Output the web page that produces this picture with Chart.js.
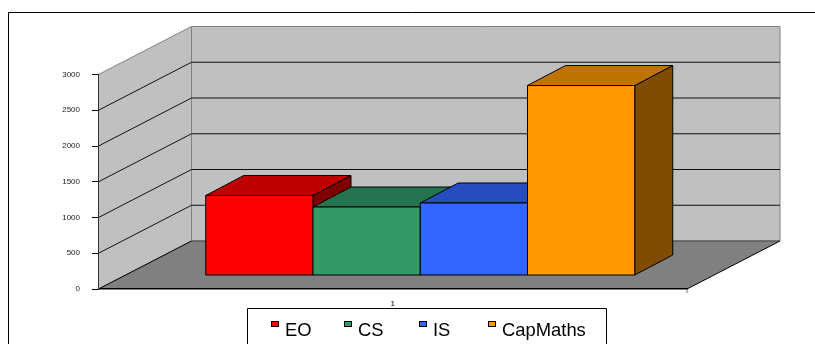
<!DOCTYPE html>
<html>
<head>
<meta charset="utf-8">
<style>
  html, body { margin: 0; padding: 0; background: #fff; }
  canvas { display: block; }
</style>
<script src="https://cdn.jsdelivr.net/npm/chart.js@4/dist/chart.umd.min.js"></script>
</head>
<body>
<canvas id="chart" width="815" height="344"></canvas>
<script>
const categories = ["1"];
const seriesNames = ["EO", "CS", "IS", "CapMaths"];
const eoValues = [1119];
const csValues = [958];
const isValues = [1014];
const capMathsValues = [2657];
const yTicks = [0, 500, 1000, 1500, 2000, 2500, 3000];

const frontColors = ["#ff0000", "#339966", "#3366ff", "#ff9900"];
const topColors = ["#bf0000", "#267350", "#264cbf", "#bf7300"];
const sideColors = ["#800000", "#1a4d33", "#1a3380", "#804d00"];

// the fake 3d box: how far back the walls go, and where the bars sit in it
const wallDx = 93, wallDy = 48;
const barOffsetX = 27.5, barOffsetY = 13.5;
const barDx = 38, barDy = 20;

const legendXs = [271, 344, 419, 488];

function poly(ctx, pts, fill, stroke) {
  ctx.beginPath();
  pts.forEach((p, i) => i ? ctx.lineTo(p[0], p[1]) : ctx.moveTo(p[0], p[1]));
  ctx.closePath();
  if (fill) { ctx.fillStyle = fill; ctx.fill(); }
  if (stroke) { ctx.strokeStyle = stroke; ctx.lineWidth = 1; ctx.stroke(); }
}

const box3d = {
  id: "box3d",
  // walls and floor go under everything else
  beforeDraw(chart) {
    const { ctx, chartArea: { left, right, top, bottom }, scales: { y } } = chart;
    ctx.save();
    // page frame, open at the right and the bottom
    ctx.strokeStyle = "#000";
    ctx.lineWidth = 1;
    ctx.beginPath();
    ctx.moveTo(8.5, 344);
    ctx.lineTo(8.5, 12.5);
    ctx.lineTo(815, 12.5);
    ctx.stroke();

    const bl = left + wallDx, br = right + wallDx;
    poly(ctx, [[left, top], [bl, top - wallDy], [bl, bottom - wallDy], [left, bottom]], "#c0c0c0", "#808080");
    poly(ctx, [[bl, top - wallDy], [br, top - wallDy], [br, bottom - wallDy], [bl, bottom - wallDy]], "#c0c0c0", "#808080");
    poly(ctx, [[left, bottom], [bl, bottom - wallDy], [br, bottom - wallDy], [right, bottom]], "#808080", null);

    yTicks.forEach(v => {
      if (v === 0 || v === 3000) return;
      const py = y.getPixelForValue(v);
      ctx.strokeStyle = "#111";
      ctx.beginPath();
      ctx.moveTo(left, py);
      ctx.lineTo(bl, py - wallDy);
      ctx.lineTo(br, py - wallDy);
      ctx.stroke();
    });
    // floor edges
    ctx.strokeStyle = "#000";
    ctx.beginPath();
    ctx.moveTo(left, bottom);
    ctx.lineTo(bl, bottom - wallDy);
    ctx.moveTo(right, bottom);
    ctx.lineTo(br, bottom - wallDy);
    ctx.stroke();
    ctx.strokeStyle = "#444";
    ctx.beginPath();
    ctx.moveTo(bl, bottom - wallDy);
    ctx.lineTo(br, bottom - wallDy);
    ctx.stroke();
    ctx.restore();
  },
  // chart.js draws flat bars last dataset first, we need boxes left to right
  beforeDatasetsDraw(chart) {
    const { ctx } = chart;
    ctx.save();
    chart.data.datasets.forEach((ds, i) => {
      const bar = chart.getDatasetMeta(i).data[0];
      const x0 = bar.x - bar.width / 2 + barOffsetX;
      const x1 = bar.x + bar.width / 2 + barOffsetX;
      const y0 = bar.y - barOffsetY;
      const y1 = bar.base - barOffsetY;
      poly(ctx, [[x1, y0], [x1 + barDx, y0 - barDy], [x1 + barDx, y1 - barDy], [x1, y1]], sideColors[i], "#000");
      poly(ctx, [[x0, y0], [x0 + barDx, y0 - barDy], [x1 + barDx, y0 - barDy], [x1, y0]], topColors[i], "#000");
      poly(ctx, [[x0, y0], [x1, y0], [x1, y1], [x0, y1]], frontColors[i], "#000");
    });
    ctx.restore();
  },
  beforeDatasetDraw() {
    return false;
  },
  afterDraw(chart) {
    const { ctx, chartArea: { right, bottom } } = chart;
    ctx.save();
    // end tick of the category axis
    ctx.strokeStyle = "#808080";
    ctx.lineWidth = 1;
    ctx.beginPath();
    ctx.moveTo(right, bottom);
    ctx.lineTo(right, bottom + 4);
    ctx.stroke();

    // legend box runs off the bottom of the page
    ctx.strokeStyle = "#000";
    ctx.beginPath();
    ctx.moveTo(247.5, 344);
    ctx.lineTo(247.5, 308.5);
    ctx.lineTo(606.5, 308.5);
    ctx.lineTo(606.5, 344);
    ctx.stroke();

    ctx.font = '18.4px "Liberation Sans"';
    ctx.textBaseline = "alphabetic";
    ctx.textAlign = "left";
    seriesNames.forEach((name, i) => {
      ctx.fillStyle = frontColors[i];
      ctx.fillRect(legendXs[i] + 0.5, 321.5, 7, 5);
      ctx.strokeStyle = "#000";
      ctx.strokeRect(legendXs[i] + 0.5, 321.5, 7, 5);
      ctx.fillStyle = "#000";
      ctx.fillText(name, legendXs[i] + 14, 336);
    });
    ctx.restore();
  }
};

new Chart(document.getElementById("chart"), {
  type: "bar",
  data: {
    labels: categories,
    datasets: [
      { label: seriesNames[0], data: eoValues },
      { label: seriesNames[1], data: csValues },
      { label: seriesNames[2], data: isValues },
      { label: seriesNames[3], data: capMathsValues }
    ]
  },
  options: {
    responsive: false,
    animation: false,
    categoryPercentage: 0.729,
    barPercentage: 1,
    layout: { padding: { left: 0, top: 74.5, right: 128, bottom: 0 } },
    scales: {
      x: {
        grid: { display: false },
        border: { color: "#000", width: 1.5 },
        ticks: { color: "#000", padding: 2, font: { family: "Liberation Sans", size: 8 } },
        afterFit: s => { s.height = 55; }
      },
      y: {
        min: 0,
        max: 3000,
        afterBuildTicks: s => { s.ticks = yTicks.map(v => ({ value: v })); },
        grid: { drawOnChartArea: false, color: "#000", tickLength: 6.5 },
        border: { color: "#333" },
        ticks: { color: "#222", padding: 12, font: { family: "Liberation Sans", size: 8 }, callback: v => String(v) },
        afterFit: s => { s.width = 98.5; }
      }
    },
    plugins: {
      legend: { display: false },
      tooltip: { enabled: false }
    }
  },
  plugins: [box3d]
});
</script>
</body>
</html>
